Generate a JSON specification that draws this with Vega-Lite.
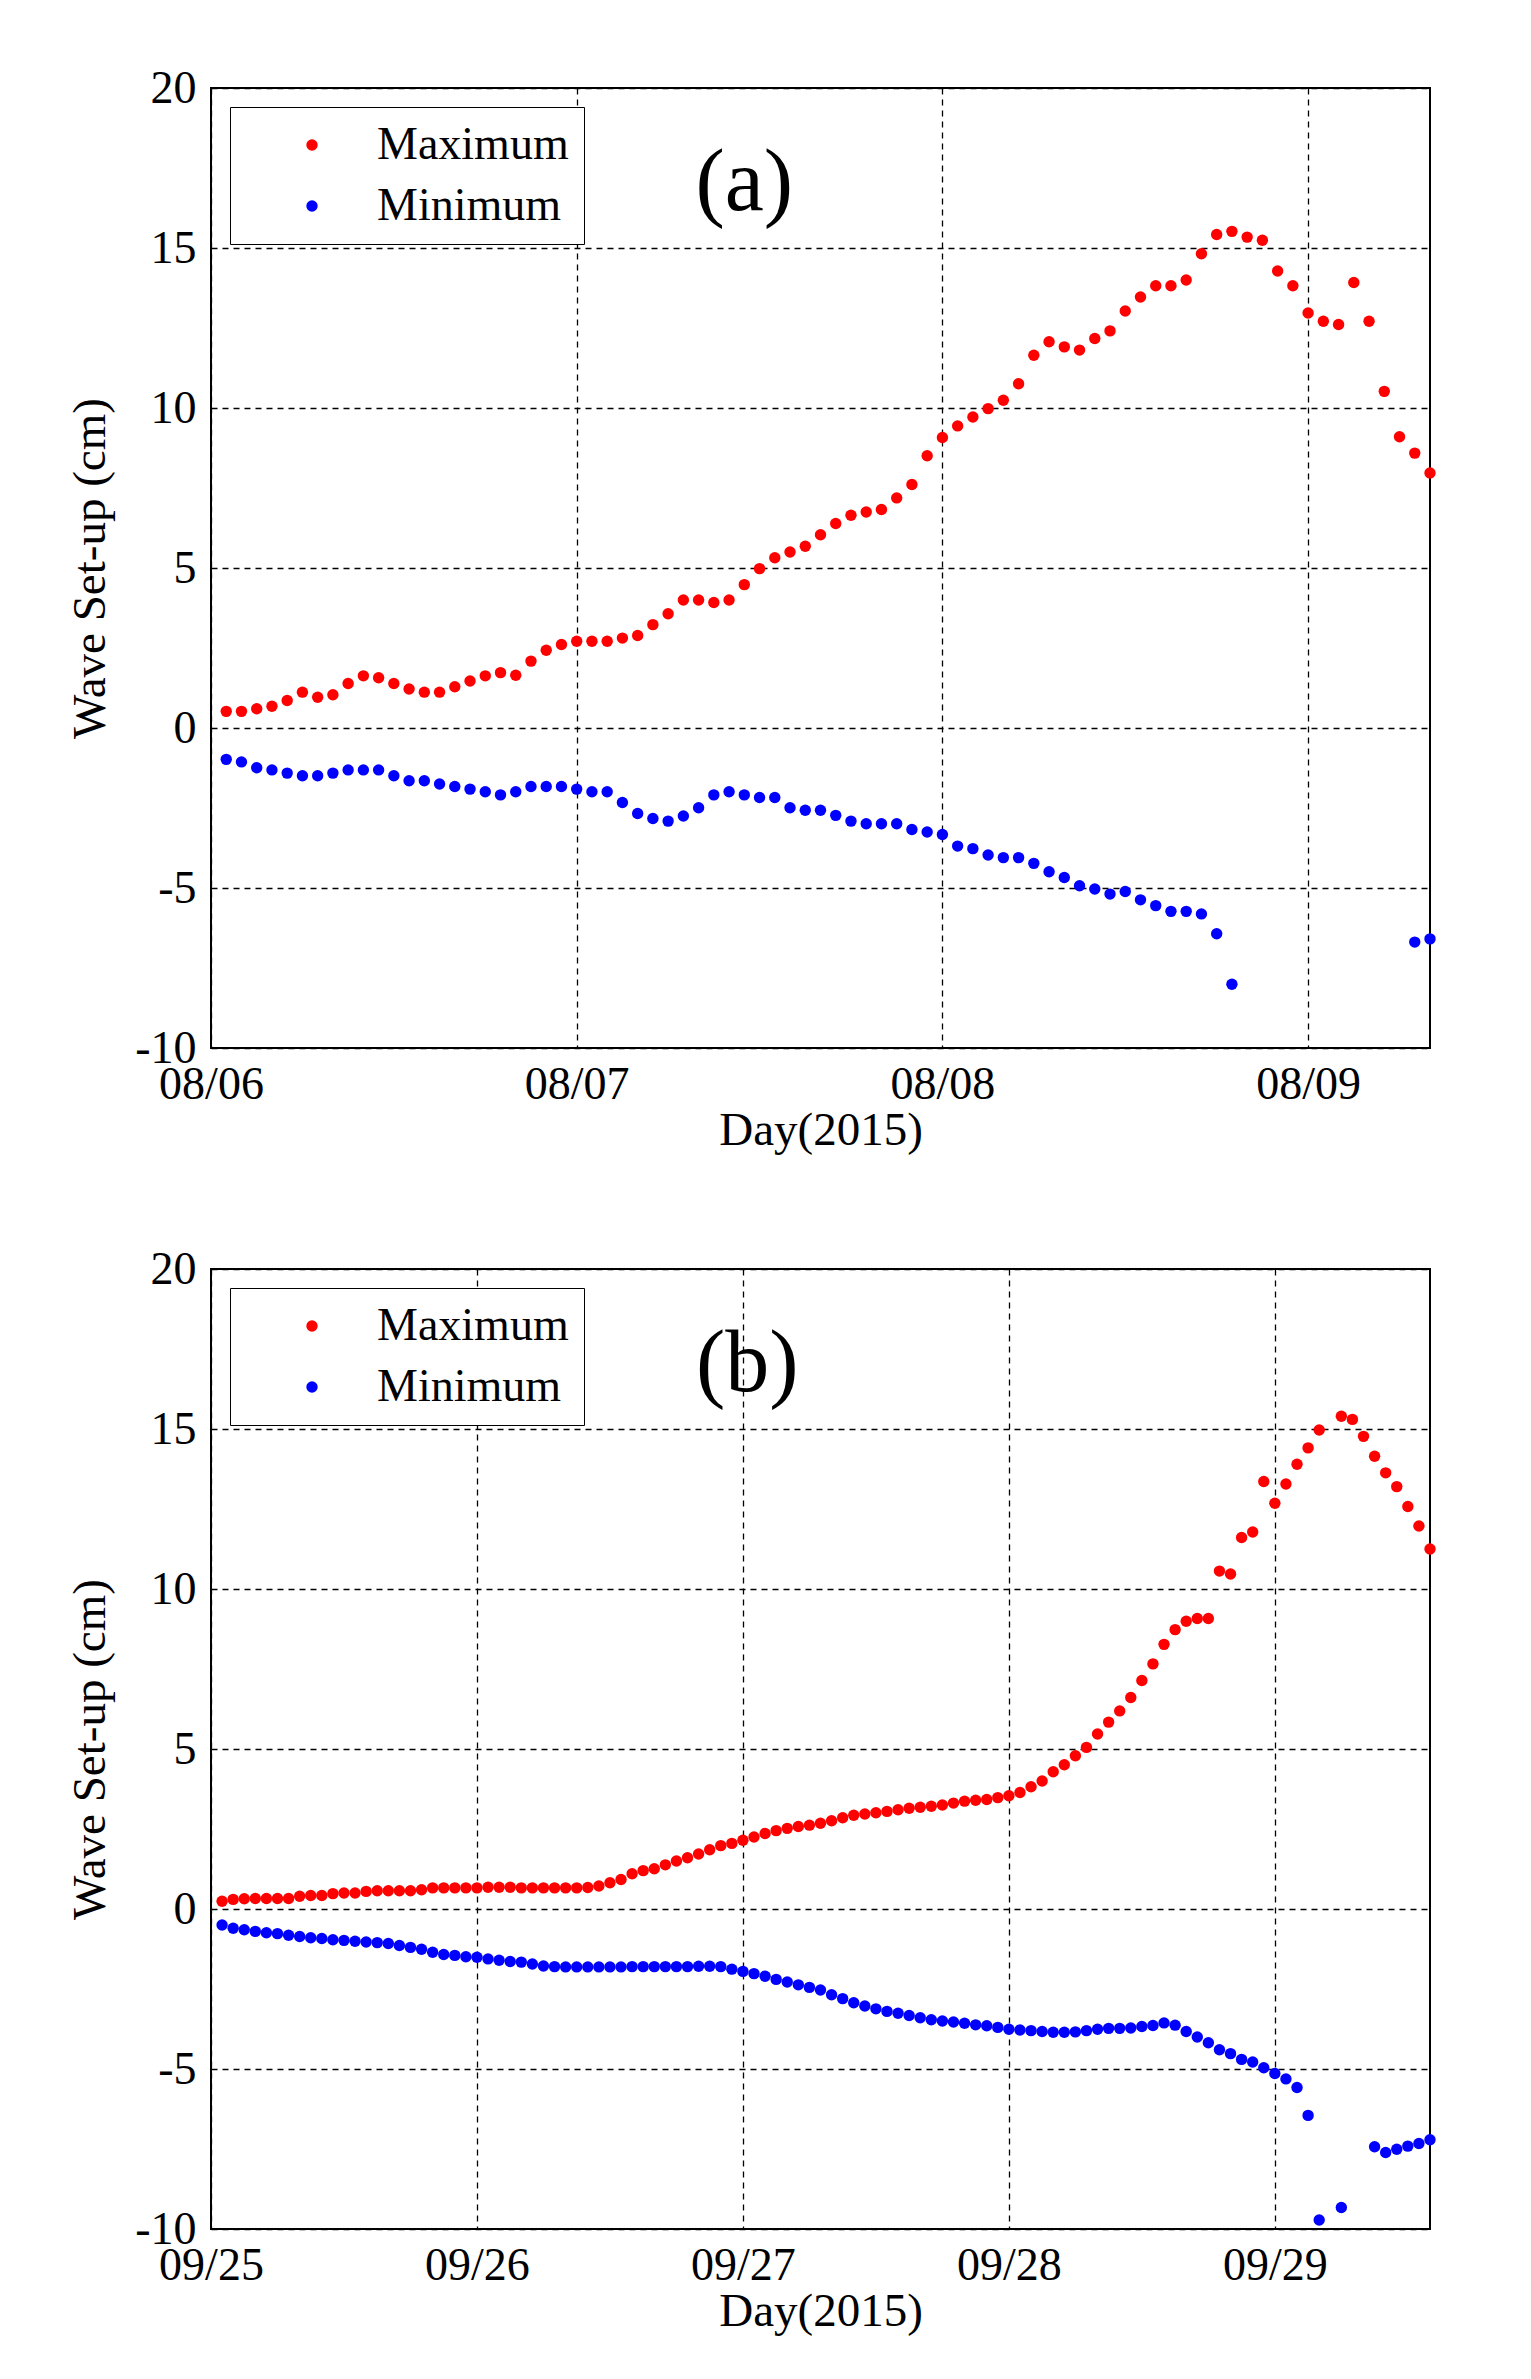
{
  "$schema": "https://vega.github.io/schema/vega-lite/v6.json",
  "background": "white",
  "padding": {"left": 65, "top": 64, "right": 20, "bottom": 10},
  "bounds": "flush",
  "spacing": 221,
  "config": {
    "font": "Liberation Serif",
    "view": {"stroke": "black", "strokeWidth": 2},
    "axis": {
      "grid": true, "gridColor": "black", "gridDash": [6, 5], "gridWidth": 1.3, "gridOpacity": 1,
      "domain": false, "ticks": false,
      "labelFont": "Liberation Serif", "labelFontSize": 46, "labelColor": "black",
      "labelOverlap": false, "labelBound": false, "labelFlush": false,
      "titleFont": "Liberation Serif", "titleFontSize": 47, "titleFontWeight": "normal", "titleColor": "black"
    },
    "axisX": {"labelPadding": 14, "titlePadding": 0},
    "axisY": {"labelPadding": 15, "titlePadding": 17, "minExtent": 80, "maxExtent": 80},
    "legend": {
      "orient": "top-left", "offset": 19, "padding": 15, "strokeColor": "black", "fillColor": "white",
      "labelFont": "Liberation Serif", "labelFontSize": 46, "labelColor": "black", "labelLimit": 500,
      "symbolSize": 130, "symbolType": "circle", "symbolOffset": 44, "labelOffset": 42, "rowPadding": 15,
      "symbolStrokeWidth": 0
    }
  },
  "datasets": {
    "a": [
      {"h":1,"s":"Maximum","v":0.52},{"h":2,"s":"Maximum","v":0.52},{"h":3,"s":"Maximum","v":0.6},{"h":4,"s":"Maximum","v":0.68},{"h":5,"s":"Maximum","v":0.86},
      {"h":6,"s":"Maximum","v":1.12},{"h":7,"s":"Maximum","v":0.96},{"h":8,"s":"Maximum","v":1.04},{"h":9,"s":"Maximum","v":1.39},{"h":10,"s":"Maximum","v":1.63},
      {"h":11,"s":"Maximum","v":1.57},{"h":12,"s":"Maximum","v":1.39},{"h":13,"s":"Maximum","v":1.22},{"h":14,"s":"Maximum","v":1.12},{"h":15,"s":"Maximum","v":1.12},
      {"h":16,"s":"Maximum","v":1.29},{"h":17,"s":"Maximum","v":1.47},{"h":18,"s":"Maximum","v":1.63},{"h":19,"s":"Maximum","v":1.73},{"h":20,"s":"Maximum","v":1.65},
      {"h":21,"s":"Maximum","v":2.09},{"h":22,"s":"Maximum","v":2.43},{"h":23,"s":"Maximum","v":2.61},{"h":24,"s":"Maximum","v":2.71},{"h":25,"s":"Maximum","v":2.71},
      {"h":26,"s":"Maximum","v":2.71},{"h":27,"s":"Maximum","v":2.81},{"h":28,"s":"Maximum","v":2.89},{"h":29,"s":"Maximum","v":3.23},{"h":30,"s":"Maximum","v":3.57},
      {"h":31,"s":"Maximum","v":4.0},{"h":32,"s":"Maximum","v":4.0},{"h":33,"s":"Maximum","v":3.92},{"h":34,"s":"Maximum","v":4.0},{"h":35,"s":"Maximum","v":4.48},
      {"h":36,"s":"Maximum","v":4.98},{"h":37,"s":"Maximum","v":5.32},{"h":38,"s":"Maximum","v":5.5},{"h":39,"s":"Maximum","v":5.68},{"h":40,"s":"Maximum","v":6.04},
      {"h":41,"s":"Maximum","v":6.39},{"h":42,"s":"Maximum","v":6.65},{"h":43,"s":"Maximum","v":6.75},{"h":44,"s":"Maximum","v":6.83},{"h":45,"s":"Maximum","v":7.19},
      {"h":46,"s":"Maximum","v":7.61},{"h":47,"s":"Maximum","v":8.51},{"h":48,"s":"Maximum","v":9.08},{"h":49,"s":"Maximum","v":9.44},{"h":50,"s":"Maximum","v":9.72},
      {"h":51,"s":"Maximum","v":9.98},{"h":52,"s":"Maximum","v":10.24},{"h":53,"s":"Maximum","v":10.76},{"h":54,"s":"Maximum","v":11.65},{"h":55,"s":"Maximum","v":12.07},
      {"h":56,"s":"Maximum","v":11.91},{"h":57,"s":"Maximum","v":11.81},{"h":58,"s":"Maximum","v":12.17},{"h":59,"s":"Maximum","v":12.41},{"h":60,"s":"Maximum","v":13.03},
      {"h":61,"s":"Maximum","v":13.47},{"h":62,"s":"Maximum","v":13.82},{"h":63,"s":"Maximum","v":13.82},{"h":64,"s":"Maximum","v":14.0},{"h":65,"s":"Maximum","v":14.82},
      {"h":66,"s":"Maximum","v":15.42},{"h":67,"s":"Maximum","v":15.52},{"h":68,"s":"Maximum","v":15.34},{"h":69,"s":"Maximum","v":15.24},{"h":70,"s":"Maximum","v":14.28},
      {"h":71,"s":"Maximum","v":13.82},{"h":72,"s":"Maximum","v":12.97},{"h":73,"s":"Maximum","v":12.71},{"h":74,"s":"Maximum","v":12.61},{"h":75,"s":"Maximum","v":13.92},
      {"h":76,"s":"Maximum","v":12.71},{"h":77,"s":"Maximum","v":10.52},{"h":78,"s":"Maximum","v":9.1},{"h":79,"s":"Maximum","v":8.59},{"h":80,"s":"Maximum","v":7.97},
      {"h":1,"s":"Minimum","v":-0.98},{"h":2,"s":"Minimum","v":-1.06},{"h":3,"s":"Minimum","v":-1.24},{"h":4,"s":"Minimum","v":-1.31},{"h":5,"s":"Minimum","v":-1.41},
      {"h":6,"s":"Minimum","v":-1.49},{"h":7,"s":"Minimum","v":-1.49},{"h":8,"s":"Minimum","v":-1.41},{"h":9,"s":"Minimum","v":-1.31},{"h":10,"s":"Minimum","v":-1.31},
      {"h":11,"s":"Minimum","v":-1.31},{"h":12,"s":"Minimum","v":-1.49},{"h":13,"s":"Minimum","v":-1.65},{"h":14,"s":"Minimum","v":-1.65},{"h":15,"s":"Minimum","v":-1.75},
      {"h":16,"s":"Minimum","v":-1.83},{"h":17,"s":"Minimum","v":-1.91},{"h":18,"s":"Minimum","v":-1.99},{"h":19,"s":"Minimum","v":-2.09},{"h":20,"s":"Minimum","v":-1.99},
      {"h":21,"s":"Minimum","v":-1.83},{"h":22,"s":"Minimum","v":-1.83},{"h":23,"s":"Minimum","v":-1.83},{"h":24,"s":"Minimum","v":-1.91},{"h":25,"s":"Minimum","v":-1.99},
      {"h":26,"s":"Minimum","v":-1.99},{"h":27,"s":"Minimum","v":-2.33},{"h":28,"s":"Minimum","v":-2.67},{"h":29,"s":"Minimum","v":-2.83},{"h":30,"s":"Minimum","v":-2.91},
      {"h":31,"s":"Minimum","v":-2.75},{"h":32,"s":"Minimum","v":-2.49},{"h":33,"s":"Minimum","v":-2.09},{"h":34,"s":"Minimum","v":-1.99},{"h":35,"s":"Minimum","v":-2.09},
      {"h":36,"s":"Minimum","v":-2.17},{"h":37,"s":"Minimum","v":-2.17},{"h":38,"s":"Minimum","v":-2.49},{"h":39,"s":"Minimum","v":-2.57},{"h":40,"s":"Minimum","v":-2.57},
      {"h":41,"s":"Minimum","v":-2.73},{"h":42,"s":"Minimum","v":-2.91},{"h":43,"s":"Minimum","v":-2.99},{"h":44,"s":"Minimum","v":-2.99},{"h":45,"s":"Minimum","v":-2.99},
      {"h":46,"s":"Minimum","v":-3.17},{"h":47,"s":"Minimum","v":-3.25},{"h":48,"s":"Minimum","v":-3.33},{"h":49,"s":"Minimum","v":-3.69},{"h":50,"s":"Minimum","v":-3.77},
      {"h":51,"s":"Minimum","v":-3.97},{"h":52,"s":"Minimum","v":-4.05},{"h":53,"s":"Minimum","v":-4.05},{"h":54,"s":"Minimum","v":-4.23},{"h":55,"s":"Minimum","v":-4.49},
      {"h":56,"s":"Minimum","v":-4.67},{"h":57,"s":"Minimum","v":-4.93},{"h":58,"s":"Minimum","v":-5.03},{"h":59,"s":"Minimum","v":-5.19},{"h":60,"s":"Minimum","v":-5.11},
      {"h":61,"s":"Minimum","v":-5.37},{"h":62,"s":"Minimum","v":-5.55},{"h":63,"s":"Minimum","v":-5.73},{"h":64,"s":"Minimum","v":-5.73},{"h":65,"s":"Minimum","v":-5.81},
      {"h":66,"s":"Minimum","v":-6.43},{"h":67,"s":"Minimum","v":-8.01},{"h":79,"s":"Minimum","v":-6.69},{"h":80,"s":"Minimum","v":-6.59}
    ],
    "b": [
      {"h":1,"s":"Maximum","v":0.24},{"h":2,"s":"Maximum","v":0.3},{"h":3,"s":"Maximum","v":0.32},{"h":4,"s":"Maximum","v":0.33},{"h":5,"s":"Maximum","v":0.33},
      {"h":6,"s":"Maximum","v":0.33},{"h":7,"s":"Maximum","v":0.33},{"h":8,"s":"Maximum","v":0.4},{"h":9,"s":"Maximum","v":0.42},{"h":10,"s":"Maximum","v":0.42},
      {"h":11,"s":"Maximum","v":0.48},{"h":12,"s":"Maximum","v":0.5},{"h":13,"s":"Maximum","v":0.5},{"h":14,"s":"Maximum","v":0.55},{"h":15,"s":"Maximum","v":0.57},
      {"h":16,"s":"Maximum","v":0.57},{"h":17,"s":"Maximum","v":0.57},{"h":18,"s":"Maximum","v":0.57},{"h":19,"s":"Maximum","v":0.6},{"h":20,"s":"Maximum","v":0.66},
      {"h":21,"s":"Maximum","v":0.66},{"h":22,"s":"Maximum","v":0.66},{"h":23,"s":"Maximum","v":0.66},{"h":24,"s":"Maximum","v":0.66},{"h":25,"s":"Maximum","v":0.68},
      {"h":26,"s":"Maximum","v":0.68},{"h":27,"s":"Maximum","v":0.68},{"h":28,"s":"Maximum","v":0.66},{"h":29,"s":"Maximum","v":0.66},{"h":30,"s":"Maximum","v":0.66},
      {"h":31,"s":"Maximum","v":0.66},{"h":32,"s":"Maximum","v":0.66},{"h":33,"s":"Maximum","v":0.66},{"h":34,"s":"Maximum","v":0.67},{"h":35,"s":"Maximum","v":0.72},
      {"h":36,"s":"Maximum","v":0.82},{"h":37,"s":"Maximum","v":0.92},{"h":38,"s":"Maximum","v":1.1},{"h":39,"s":"Maximum","v":1.2},{"h":40,"s":"Maximum","v":1.26},
      {"h":41,"s":"Maximum","v":1.38},{"h":42,"s":"Maximum","v":1.5},{"h":43,"s":"Maximum","v":1.6},{"h":44,"s":"Maximum","v":1.72},{"h":45,"s":"Maximum","v":1.85},
      {"h":46,"s":"Maximum","v":1.98},{"h":47,"s":"Maximum","v":2.05},{"h":48,"s":"Maximum","v":2.15},{"h":49,"s":"Maximum","v":2.25},{"h":50,"s":"Maximum","v":2.36},
      {"h":51,"s":"Maximum","v":2.45},{"h":52,"s":"Maximum","v":2.52},{"h":53,"s":"Maximum","v":2.58},{"h":54,"s":"Maximum","v":2.62},{"h":55,"s":"Maximum","v":2.68},
      {"h":56,"s":"Maximum","v":2.76},{"h":57,"s":"Maximum","v":2.85},{"h":58,"s":"Maximum","v":2.93},{"h":59,"s":"Maximum","v":2.97},{"h":60,"s":"Maximum","v":3.01},
      {"h":61,"s":"Maximum","v":3.05},{"h":62,"s":"Maximum","v":3.1},{"h":63,"s":"Maximum","v":3.15},{"h":64,"s":"Maximum","v":3.18},{"h":65,"s":"Maximum","v":3.21},
      {"h":66,"s":"Maximum","v":3.25},{"h":67,"s":"Maximum","v":3.31},{"h":68,"s":"Maximum","v":3.37},{"h":69,"s":"Maximum","v":3.4},{"h":70,"s":"Maximum","v":3.42},
      {"h":71,"s":"Maximum","v":3.48},{"h":72,"s":"Maximum","v":3.54},{"h":73,"s":"Maximum","v":3.64},{"h":74,"s":"Maximum","v":3.82},{"h":75,"s":"Maximum","v":4.0},
      {"h":76,"s":"Maximum","v":4.29},{"h":77,"s":"Maximum","v":4.51},{"h":78,"s":"Maximum","v":4.79},{"h":79,"s":"Maximum","v":5.05},{"h":80,"s":"Maximum","v":5.47},
      {"h":81,"s":"Maximum","v":5.84},{"h":82,"s":"Maximum","v":6.19},{"h":83,"s":"Maximum","v":6.61},{"h":84,"s":"Maximum","v":7.14},{"h":85,"s":"Maximum","v":7.66},
      {"h":86,"s":"Maximum","v":8.27},{"h":87,"s":"Maximum","v":8.73},{"h":88,"s":"Maximum","v":8.99},{"h":89,"s":"Maximum","v":9.08},{"h":90,"s":"Maximum","v":9.08},
      {"h":91,"s":"Maximum","v":10.56},{"h":92,"s":"Maximum","v":10.47},{"h":93,"s":"Maximum","v":11.61},{"h":94,"s":"Maximum","v":11.78},{"h":95,"s":"Maximum","v":13.36},
      {"h":96,"s":"Maximum","v":12.68},{"h":97,"s":"Maximum","v":13.28},{"h":98,"s":"Maximum","v":13.9},{"h":99,"s":"Maximum","v":14.41},{"h":100,"s":"Maximum","v":14.97},
      {"h":102,"s":"Maximum","v":15.4},{"h":103,"s":"Maximum","v":15.3},{"h":104,"s":"Maximum","v":14.77},{"h":105,"s":"Maximum","v":14.15},
      {"h":106,"s":"Maximum","v":13.63},{"h":107,"s":"Maximum","v":13.2},{"h":108,"s":"Maximum","v":12.58},{"h":109,"s":"Maximum","v":11.97},{"h":110,"s":"Maximum","v":11.25},
      {"h":1,"s":"Minimum","v":-0.5},{"h":2,"s":"Minimum","v":-0.6},{"h":3,"s":"Minimum","v":-0.65},{"h":4,"s":"Minimum","v":-0.7},{"h":5,"s":"Minimum","v":-0.74},
      {"h":6,"s":"Minimum","v":-0.77},{"h":7,"s":"Minimum","v":-0.82},{"h":8,"s":"Minimum","v":-0.86},{"h":9,"s":"Minimum","v":-0.9},{"h":10,"s":"Minimum","v":-0.92},
      {"h":11,"s":"Minimum","v":-0.96},{"h":12,"s":"Minimum","v":-0.98},{"h":13,"s":"Minimum","v":-1.01},{"h":14,"s":"Minimum","v":-1.03},{"h":15,"s":"Minimum","v":-1.05},
      {"h":16,"s":"Minimum","v":-1.08},{"h":17,"s":"Minimum","v":-1.14},{"h":18,"s":"Minimum","v":-1.2},{"h":19,"s":"Minimum","v":-1.26},{"h":20,"s":"Minimum","v":-1.35},
      {"h":21,"s":"Minimum","v":-1.42},{"h":22,"s":"Minimum","v":-1.45},{"h":23,"s":"Minimum","v":-1.49},{"h":24,"s":"Minimum","v":-1.51},{"h":25,"s":"Minimum","v":-1.56},
      {"h":26,"s":"Minimum","v":-1.6},{"h":27,"s":"Minimum","v":-1.64},{"h":28,"s":"Minimum","v":-1.66},{"h":29,"s":"Minimum","v":-1.72},{"h":30,"s":"Minimum","v":-1.78},
      {"h":31,"s":"Minimum","v":-1.8},{"h":32,"s":"Minimum","v":-1.81},{"h":33,"s":"Minimum","v":-1.81},{"h":34,"s":"Minimum","v":-1.81},{"h":35,"s":"Minimum","v":-1.81},
      {"h":36,"s":"Minimum","v":-1.81},{"h":37,"s":"Minimum","v":-1.81},{"h":38,"s":"Minimum","v":-1.8},{"h":39,"s":"Minimum","v":-1.8},{"h":40,"s":"Minimum","v":-1.8},
      {"h":41,"s":"Minimum","v":-1.8},{"h":42,"s":"Minimum","v":-1.8},{"h":43,"s":"Minimum","v":-1.8},{"h":44,"s":"Minimum","v":-1.79},{"h":45,"s":"Minimum","v":-1.79},
      {"h":46,"s":"Minimum","v":-1.8},{"h":47,"s":"Minimum","v":-1.88},{"h":48,"s":"Minimum","v":-1.95},{"h":49,"s":"Minimum","v":-2.02},{"h":50,"s":"Minimum","v":-2.1},
      {"h":51,"s":"Minimum","v":-2.2},{"h":52,"s":"Minimum","v":-2.28},{"h":53,"s":"Minimum","v":-2.37},{"h":54,"s":"Minimum","v":-2.45},{"h":55,"s":"Minimum","v":-2.53},
      {"h":56,"s":"Minimum","v":-2.68},{"h":57,"s":"Minimum","v":-2.8},{"h":58,"s":"Minimum","v":-2.93},{"h":59,"s":"Minimum","v":-3.03},{"h":60,"s":"Minimum","v":-3.12},
      {"h":61,"s":"Minimum","v":-3.2},{"h":62,"s":"Minimum","v":-3.26},{"h":63,"s":"Minimum","v":-3.33},{"h":64,"s":"Minimum","v":-3.4},{"h":65,"s":"Minimum","v":-3.46},
      {"h":66,"s":"Minimum","v":-3.5},{"h":67,"s":"Minimum","v":-3.53},{"h":68,"s":"Minimum","v":-3.57},{"h":69,"s":"Minimum","v":-3.62},{"h":70,"s":"Minimum","v":-3.65},
      {"h":71,"s":"Minimum","v":-3.7},{"h":72,"s":"Minimum","v":-3.76},{"h":73,"s":"Minimum","v":-3.78},{"h":74,"s":"Minimum","v":-3.8},{"h":75,"s":"Minimum","v":-3.83},
      {"h":76,"s":"Minimum","v":-3.85},{"h":77,"s":"Minimum","v":-3.85},{"h":78,"s":"Minimum","v":-3.84},{"h":79,"s":"Minimum","v":-3.8},{"h":80,"s":"Minimum","v":-3.76},
      {"h":81,"s":"Minimum","v":-3.73},{"h":82,"s":"Minimum","v":-3.73},{"h":83,"s":"Minimum","v":-3.72},{"h":84,"s":"Minimum","v":-3.67},{"h":85,"s":"Minimum","v":-3.64},
      {"h":86,"s":"Minimum","v":-3.56},{"h":87,"s":"Minimum","v":-3.63},{"h":88,"s":"Minimum","v":-3.83},{"h":89,"s":"Minimum","v":-4.0},{"h":90,"s":"Minimum","v":-4.18},
      {"h":91,"s":"Minimum","v":-4.4},{"h":92,"s":"Minimum","v":-4.52},{"h":93,"s":"Minimum","v":-4.7},{"h":94,"s":"Minimum","v":-4.78},{"h":95,"s":"Minimum","v":-4.96},
      {"h":96,"s":"Minimum","v":-5.14},{"h":97,"s":"Minimum","v":-5.31},{"h":98,"s":"Minimum","v":-5.58},{"h":99,"s":"Minimum","v":-6.45},{"h":100,"s":"Minimum","v":-9.72},
      {"h":102,"s":"Minimum","v":-9.33},{"h":105,"s":"Minimum","v":-7.43},{"h":106,"s":"Minimum","v":-7.61},{"h":107,"s":"Minimum","v":-7.51},{"h":108,"s":"Minimum","v":-7.41},
      {"h":109,"s":"Minimum","v":-7.33},{"h":110,"s":"Minimum","v":-7.21}
    ],
    "labA": [{"h": 35, "v": 17, "label": "(a)"}],
    "labB": [{"h": 48.4, "v": 17, "label": "(b)"}]
  },
  "vconcat": [
    {
      "width": 1219,
      "height": 960,
      "layer": [
        {
          "data": {"name": "a"},
          "mark": {"type": "circle", "size": 130, "opacity": 1, "clip": false},
          "encoding": {
            "x": {"field": "h", "type": "quantitative",
                  "scale": {"domain": [0, 80], "nice": false, "zero": false},
                  "axis": {"values": [0, 24, 48, 72], "title": "Day(2015)",
                           "labelExpr": "['08/06','08/07','08/08','08/09'][round(datum.value/24)]"}},
            "y": {"field": "v", "type": "quantitative",
                  "scale": {"domain": [-10, 20], "nice": false, "zero": false},
                  "axis": {"values": [-10, -5, 0, 5, 10, 15, 20], "title": "Wave Set-up (cm)",
                           "labelExpr": "'' + datum.value"}},
            "color": {"field": "s", "type": "nominal",
                      "scale": {"domain": ["Maximum", "Minimum"], "range": ["#ff0000", "#0000ff"]},
                      "legend": {"title": null}}
          }
        },
        {
          "data": {"name": "labA"},
          "mark": {"type": "text", "font": "Liberation Serif", "fontSize": 88, "color": "black", "baseline": "middle"},
          "encoding": {
            "x": {"field": "h", "type": "quantitative"},
            "y": {"field": "v", "type": "quantitative"},
            "text": {"field": "label"}
          }
        }
      ]
    },
    {
      "width": 1219,
      "height": 960,
      "layer": [
        {
          "data": {"name": "b"},
          "mark": {"type": "circle", "size": 130, "opacity": 1, "clip": false},
          "encoding": {
            "x": {"field": "h", "type": "quantitative",
                  "scale": {"domain": [0, 110], "nice": false, "zero": false},
                  "axis": {"values": [0, 24, 48, 72, 96], "title": "Day(2015)",
                           "labelExpr": "['09/25','09/26','09/27','09/28','09/29'][round(datum.value/24)]"}},
            "y": {"field": "v", "type": "quantitative",
                  "scale": {"domain": [-10, 20], "nice": false, "zero": false},
                  "axis": {"values": [-10, -5, 0, 5, 10, 15, 20], "title": "Wave Set-up (cm)",
                           "labelExpr": "'' + datum.value"}},
            "color": {"field": "s", "type": "nominal",
                      "scale": {"domain": ["Maximum", "Minimum"], "range": ["#ff0000", "#0000ff"]},
                      "legend": {"title": null}}
          }
        },
        {
          "data": {"name": "labB"},
          "mark": {"type": "text", "font": "Liberation Serif", "fontSize": 88, "color": "black", "baseline": "middle"},
          "encoding": {
            "x": {"field": "h", "type": "quantitative"},
            "y": {"field": "v", "type": "quantitative"},
            "text": {"field": "label"}
          }
        }
      ]
    }
  ],
  "resolve": {
    "scale": {"x": "independent", "color": "independent"},
    "legend": {"color": "independent"}
  }
}
